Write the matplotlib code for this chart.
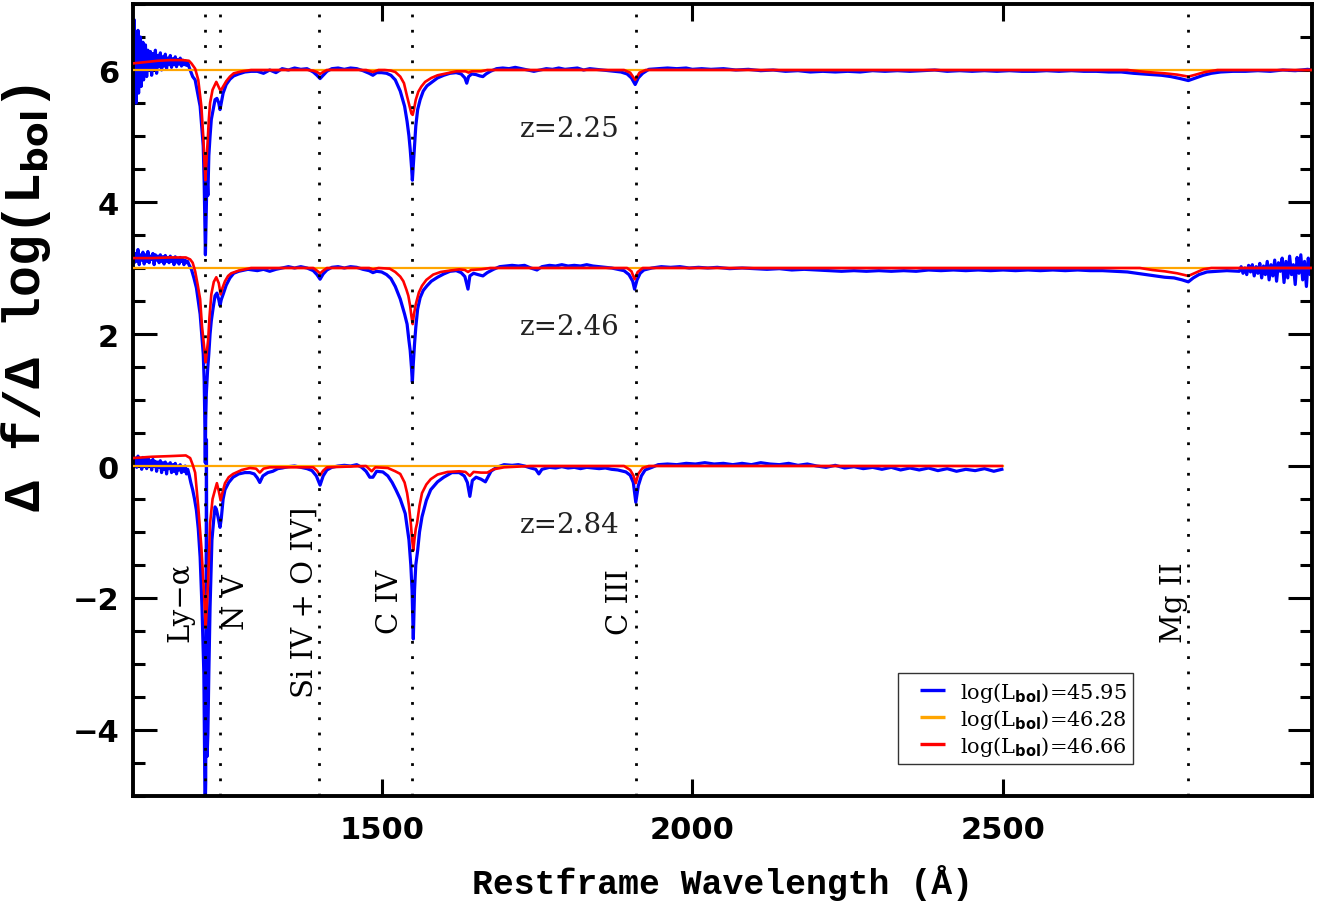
import numpy as np
import matplotlib
matplotlib.use("Agg")
import matplotlib.pyplot as plt
from matplotlib.ticker import MultipleLocator, FixedLocator
from matplotlib.lines import Line2D

plt.rcParams['mathtext.fontset'] = 'custom'
plt.rcParams['mathtext.sf'] = 'DejaVu Sans:bold'
plt.rcParams['mathtext.rm'] = 'DejaVu Serif'
plt.rcParams['axes.unicode_minus'] = True

# ---------------- data (residuals relative to each spectrum's offset) ----------------
offsets = [6.0, 3.0, 0.0]
z_labels = ["z=2.25", "z=2.46", "z=2.84"]
orange_end = [2997, 2997, 2500]

# z = 2.25 (offset 6) -- blue : log(Lbol)=45.95
wl_b1_left = list(range(1100, 1121)) + list(range(1122, 1191, 2))
res_b1_left = [0.3, -0.45, 0.76, -0.3, 0.55, -0.5, 0.45, -0.1, 0.6, -0.35, 0.4, 0.05, 0.5, -0.25, 0.35,
               -0.1, 0.42, -0.15, 0.3, 0.0, 0.38,
               -0.1, 0.3, 0.0, 0.28, -0.08, 0.25, 0.02, 0.3, -0.05, 0.22, 0.05, 0.26, 0.0, 0.2, 0.06,
               0.24, 0.02, 0.18, 0.08, 0.22, 0.04, 0.17, 0.08, 0.2, 0.05, 0.16, 0.09, 0.18, 0.06, 0.15,
               0.08, 0.14, 0.07, 0.12, 0.05]
wl_b1_main = [1196, 1200, 1204, 1208, 1211, 1213, 1214.5, 1215.5, 1216.5, 1217.5, 1219, 1220.5, 1222,
              1224, 1226, 1229, 1232, 1235, 1238, 1240, 1242, 1245, 1250, 1256, 1262, 1270, 1280, 1290,
              1300, 1310, 1320, 1330, 1340, 1350, 1360, 1370, 1380, 1390, 1396, 1401, 1406, 1412, 1420,
              1430, 1440, 1450, 1460, 1470, 1480, 1486, 1492, 1500, 1508, 1515, 1522, 1530, 1537, 1541,
              1544, 1546, 1548, 1549.5, 1551, 1553, 1555, 1558, 1562, 1567, 1573, 1580, 1590, 1600, 1610,
              1620, 1628, 1634, 1637, 1640, 1645, 1652, 1658, 1663, 1668, 1675, 1685, 1695, 1705, 1715,
              1725, 1735, 1745, 1755, 1765, 1775, 1785, 1795, 1805, 1815, 1825, 1835, 1845, 1855, 1865,
              1875, 1885, 1895, 1902, 1908, 1913, 1920, 1930, 1945, 1960, 1975, 1990, 2000, 2015, 2030,
              2050, 2070, 2090, 2110, 2130, 2150, 2170, 2190, 2210, 2230, 2250, 2270, 2290, 2310, 2330,
              2350, 2370, 2390, 2410, 2430, 2450, 2470, 2490, 2510, 2530, 2550, 2570, 2590, 2610, 2630,
              2650, 2670, 2690, 2710, 2725, 2740, 2755, 2770, 2785, 2798, 2810, 2822, 2835, 2850, 2870,
              2890, 2910, 2930, 2950, 2970, 2990, 2997]
res_b1_main = [-0.1, -0.15, -0.35, -0.55, -0.9, -1.15, -1.7, -2.3, -2.8, -2.3, -1.6, -1.9, -1.3,
               -1.0, -0.75, -0.6, -0.45, -0.43, -0.5, -0.6, -0.5, -0.35, -0.22, -0.14, -0.09, -0.06, -0.03, -0.02,
               -0.02, -0.05, 0.0, -0.04, 0.02, 0.0, 0.03, 0.01, 0.02, -0.03, -0.08, -0.13, -0.08, -0.02, 0.02,
               0.03, 0.01, 0.03, 0.02, -0.01, -0.05, -0.08, -0.04, -0.04, -0.05, -0.08, -0.15, -0.32, -0.55, -0.78,
               -1.0, -1.2, -1.45, -1.67, -1.45, -1.15, -0.85, -0.6, -0.45, -0.32, -0.24, -0.19, -0.12, -0.08, -0.05,
               -0.04, -0.06, -0.12, -0.2, -0.1, -0.06, -0.07, -0.09, -0.1, -0.06, -0.02, 0.02, 0.03, 0.02, 0.04,
               0.02, 0.0, -0.02, 0.0, 0.02, 0.01, 0.03, 0.01, 0.02, 0.03, 0.0, 0.02, 0.01, 0.0, -0.01,
               -0.02, -0.03, -0.06, -0.12, -0.22, -0.12, -0.05, 0.01, 0.02, 0.03, 0.02, 0.03, 0.01, 0.02, 0.01,
               0.02, 0.0, 0.01, -0.01, 0.0, -0.02, -0.01, -0.03, -0.02, -0.03, -0.02, -0.03, -0.01, -0.02, -0.01,
               -0.02, -0.01, 0.0, -0.02, -0.01, -0.02, -0.01, -0.02, -0.01, -0.02, -0.02, -0.01, -0.02, -0.01, -0.02,
               -0.02, -0.03, -0.03, -0.05, -0.06, -0.07, -0.08, -0.1, -0.13, -0.16, -0.12, -0.08, -0.05, -0.03, -0.02,
               -0.02, -0.01, -0.02, 0.0, -0.01, 0.01, 0.0]

# z = 2.25 (offset 6) -- red : log(Lbol)=46.66
wl_r1 = [1100, 1120, 1140, 1160, 1180, 1190, 1194, 1200, 1205, 1210, 1213, 1215, 1216.5, 1218, 1220,
         1222, 1224, 1228, 1232, 1234, 1237, 1240, 1242, 1245, 1250, 1256, 1262, 1275, 1290, 1380,
         1390, 1396, 1401, 1406, 1412, 1475, 1486, 1495, 1505, 1515, 1522, 1530, 1536, 1541, 1545,
         1548, 1550, 1552, 1555, 1559, 1564, 1570, 1580, 1590, 1605, 1620, 1635, 1640, 1645, 1660,
         1670, 1890, 1900, 1908, 1915, 1925, 2700, 2730, 2760, 2780, 2798, 2810, 2825, 2845, 2997]
res_r1 = [0.1, 0.12, 0.14, 0.15, 0.15, 0.14, 0.1, 0.02, -0.15, -0.55, -1.0, -1.4, -1.67, -1.4, -1.1,
          -0.75, -0.5, -0.3, -0.22, -0.18, -0.24, -0.3, -0.3, -0.25, -0.17, -0.1, -0.05, -0.02, 0.0, 0.0,
          -0.01, -0.03, -0.06, -0.03, 0.0, 0.0, -0.03, 0.0, 0.0, -0.01, -0.03, -0.1, -0.2, -0.4, -0.55,
          -0.66, -0.68, -0.6, -0.45, -0.33, -0.25, -0.18, -0.12, -0.08, -0.05, -0.02, -0.02, -0.04, -0.02, -0.02,
          0.0, 0.0, -0.04, -0.15, -0.04, 0.0, 0.0, -0.03, -0.05, -0.07, -0.1, -0.07, -0.03, 0.0, 0.0]

# z = 2.46 (offset 3) -- blue
wl_b2_left = list(range(1100, 1191, 2))
res_b2_left = [0.25, 0.08, 0.22, 0.1, 0.28, 0.05, 0.2, 0.12, 0.24, 0.06, 0.2, 0.1, 0.25, 0.08, 0.18,
               0.13, 0.22, 0.05, 0.2, 0.12, 0.18, 0.08, 0.2, 0.1, 0.17, 0.06, 0.19, 0.1, 0.16, 0.08,
               0.18, 0.1, 0.15, 0.05, 0.17, 0.09, 0.14, 0.06, 0.16, 0.1, 0.13, 0.05, 0.12, 0.08, 0.1, 0.05]
wl_b2_main = [1194, 1198, 1202, 1205, 1208,
              1211, 1213, 1214.5, 1215.5, 1216.3, 1217, 1218, 1220, 1222, 1224, 1226, 1229, 1232, 1235,
              1238, 1240, 1242, 1245, 1250, 1256, 1262, 1270, 1285, 1300, 1310, 1320, 1330, 1340, 1350,
              1360, 1370, 1380, 1390, 1396, 1401, 1406, 1412, 1420, 1430, 1440, 1450, 1460, 1470, 1480,
              1486, 1492, 1500, 1508, 1515, 1522, 1530, 1537, 1541, 1544, 1546, 1548, 1549.5, 1551, 1553,
              1555, 1558, 1562, 1567, 1573, 1580, 1590, 1600, 1610, 1620, 1628, 1634, 1639, 1642, 1648,
              1655, 1663, 1670, 1680, 1690, 1700, 1710, 1720, 1730, 1740, 1750, 1758, 1770, 1780, 1790,
              1800, 1810, 1820, 1830, 1840, 1850, 1860, 1870, 1880, 1890, 1898, 1904, 1907, 1911, 1916,
              1922, 1935, 1950, 1965, 1980, 1995, 2010, 2025, 2040, 2060, 2080, 2100, 2120, 2140, 2160,
              2180, 2200, 2220, 2240, 2260, 2280, 2300, 2320, 2340, 2360, 2380, 2400, 2420, 2440, 2460,
              2480, 2500, 2520, 2540, 2560, 2580, 2600, 2620, 2640, 2660, 2680, 2700, 2715, 2730, 2745,
              2760, 2775, 2788, 2798, 2806, 2815, 2828, 2845, 2860]
res_b2_main = [-0.02, -0.15, -0.3, -0.5, -0.7,
               -1.05, -1.3, -1.7, -2.3, -2.95, -2.3, -1.9, -1.55, -1.3, -1.0, -0.8, -0.6, -0.42, -0.38,
               -0.48, -0.57, -0.48, -0.4, -0.26, -0.15, -0.08, -0.05, -0.02, -0.04, -0.02, -0.05, -0.02, 0.0, 0.02,
               0.0, 0.02, 0.0, -0.04, -0.1, -0.17, -0.09, -0.03, 0.01, 0.02, 0.0, 0.02, 0.01, -0.02, -0.04,
               -0.07, -0.05, -0.06, -0.1, -0.16, -0.28, -0.47, -0.7, -0.85, -1.1, -1.25, -1.5, -1.73, -1.45, -1.15,
               -0.9, -0.62, -0.45, -0.34, -0.27, -0.2, -0.14, -0.09, -0.05, -0.04, -0.07, -0.13, -0.32, -0.12, -0.08,
               -0.1, -0.12, -0.07, -0.02, 0.02, 0.03, 0.04, 0.03, 0.04, 0.0, -0.03, 0.02, 0.04, 0.03, 0.05,
               0.03, 0.04, 0.03, 0.05, 0.03, 0.02, 0.01, 0.0, -0.02, -0.04, -0.1, -0.2, -0.32, -0.18, -0.08,
               -0.03, 0.0, 0.02, 0.01, 0.02, 0.0, 0.01, 0.0, 0.01, -0.01, 0.0, -0.01, -0.02, -0.01, -0.03,
               -0.02, -0.03, -0.04, -0.05, -0.04, -0.05, -0.04, -0.05, -0.04, -0.05, -0.03, -0.04, -0.03, -0.04, -0.03,
               -0.04, -0.03, -0.04, -0.03, -0.04, -0.03, -0.04, -0.03, -0.04, -0.04, -0.05, -0.06, -0.08, -0.1, -0.12,
               -0.14, -0.15, -0.18, -0.21, -0.15, -0.1, -0.06, -0.05, -0.04]
wl_b2_right = list(range(2880, 2998, 3))
res_b2_right = [-0.05, 0.02, -0.08, 0.0, -0.1, 0.04, -0.06, 0.05, -0.12, 0.02, -0.08, 0.07, -0.15, 0.03,
                -0.1, 0.1, -0.18, 0.05, -0.12, 0.12, -0.2, 0.08, -0.05, 0.15, -0.22, 0.1, -0.15, 0.18,
                -0.1, 0.05, -0.25, 0.16, -0.08, 0.2, -0.18, 0.1, -0.28, 0.15, -0.1, 0.05]

# z = 2.46 (offset 3) -- red
wl_r2 = [1100, 1130, 1160, 1185, 1192, 1196, 1200, 1204, 1208, 1211, 1214, 1217, 1219, 1221, 1223,
         1226, 1230, 1234, 1238, 1241, 1244, 1248, 1253, 1258, 1270, 1280, 1290, 1390, 1396, 1401,
         1406, 1412, 1480, 1486, 1495, 1513, 1522, 1530, 1535, 1540, 1543, 1546, 1548, 1550, 1552,
         1555, 1560, 1565, 1572, 1583, 1595, 1609, 1625, 1634, 1639, 1644, 1660, 1675, 1895, 1902,
         1907, 1912, 1920, 2720, 2740, 2760, 2780, 2798, 2810, 2822, 2835, 2997]
res_r2 = [0.15, 0.15, 0.16, 0.16, 0.13, 0.08, -0.05, -0.25, -0.47, -0.88, -1.15, -1.43, -1.25, -1.08, -0.75,
          -0.4, -0.21, -0.14, -0.23, -0.4, -0.3, -0.2, -0.12, -0.08, -0.04, -0.02, 0.0, 0.0, -0.04, -0.08,
          -0.04, 0.0, 0.0, -0.02, 0.0, -0.01, -0.06, -0.13, -0.2, -0.33, -0.42, -0.58, -0.73, -0.85, -0.7,
          -0.55, -0.37, -0.27, -0.18, -0.1, -0.06, -0.04, -0.02, -0.03, -0.06, -0.03, -0.02, 0.0, 0.0, -0.05,
          -0.17, -0.06, 0.0, 0.0, -0.03, -0.05, -0.08, -0.12, -0.07, -0.02, 0.0, 0.0]

# z = 2.84 (offset 0) -- blue
wl_b3_left = list(range(1100, 1191, 2))
res_b3_left = [0.08, 0.0, 0.12, -0.02, 0.15, 0.02, 0.1, -0.05, 0.13, 0.0,
               0.1, -0.04, 0.12, 0.02, 0.08, -0.06, 0.1, 0.0, 0.07, -0.08,
               0.06, -0.02, 0.08, -0.1, 0.05, -0.05, 0.06, -0.12, 0.03, -0.04,
               0.05, -0.1, 0.02, -0.08, 0.04, -0.12, 0.0, -0.06, 0.02, -0.1,
               -0.02, -0.08, 0.0, -0.12, -0.05, -0.12]
wl_b3_main = [1193, 1196, 1199, 1202,
              1205, 1208, 1211, 1213, 1214, 1215, 1216, 1217, 1218.2, 1219.2, 1220.5, 1222, 1224, 1227,
              1230, 1232, 1234, 1237, 1240, 1242, 1245, 1248, 1254, 1261, 1270, 1280, 1288, 1295, 1300,
              1304, 1309, 1317, 1325, 1333, 1340, 1350, 1360, 1370, 1380, 1388, 1395, 1401, 1406, 1412,
              1420, 1430, 1440, 1450, 1460, 1468, 1475, 1481, 1486, 1492, 1502, 1510, 1517, 1523, 1530,
              1538, 1544, 1547, 1549, 1551, 1553, 1555, 1558, 1561, 1565, 1572, 1579, 1590, 1600, 1613,
              1625, 1633, 1638, 1642, 1646, 1652, 1660, 1667, 1672, 1676, 1685, 1697, 1710, 1720, 1730,
              1740, 1748, 1753, 1758, 1770, 1780, 1790, 1800, 1810, 1820, 1830, 1840, 1850, 1860, 1870,
              1880, 1893, 1900, 1905, 1909, 1913, 1918, 1924, 1935, 1945, 1960, 1975, 1990, 2005, 2020,
              2035, 2050, 2065, 2080, 2095, 2110, 2125, 2140, 2155, 2170, 2185, 2200, 2215, 2230, 2245,
              2260, 2275, 2290, 2305, 2320, 2335, 2350, 2365, 2380, 2395, 2410, 2425, 2440, 2455, 2470,
              2485, 2498]
res_b3_main = [-0.25, -0.36, -0.5, -0.67,
               -0.95, -1.38, -2.14, -2.8, -3.15, -4.2, -5.3, -4.8, 0.4, -4.4, -4.05, -3.15, -2.14, -1.12,
               -0.8, -0.62, -0.65, -0.78, -0.93, -0.8, -0.5, -0.36, -0.25, -0.17, -0.12, -0.1, -0.1, -0.12, -0.18,
               -0.25, -0.15, -0.1, -0.08, -0.04, -0.03, -0.01, 0.0, -0.02, -0.04, -0.07, -0.15, -0.29, -0.15, -0.06,
               -0.02, 0.0, 0.01, 0.0, 0.02, -0.02, -0.08, -0.17, -0.17, -0.08, -0.09, -0.15, -0.25, -0.36, -0.5,
               -0.72, -1.12, -1.5, -1.88, -2.62, -1.88, -1.5, -1.28, -1.0, -0.77, -0.52, -0.36, -0.24, -0.17, -0.1,
               -0.1, -0.15, -0.25, -0.46, -0.22, -0.17, -0.2, -0.24, -0.15, -0.08, -0.02, 0.02, 0.01, 0.02, 0.0,
               -0.03, -0.05, -0.12, -0.05, -0.02, -0.03, -0.01, -0.03, -0.02, -0.04, -0.02, -0.03, -0.04, -0.03, -0.05,
               -0.06, -0.09, -0.14, -0.25, -0.55, -0.3, -0.15, -0.06, -0.02, 0.02, 0.03, 0.02, 0.04, 0.03, 0.05,
               0.03, 0.04, 0.02, 0.04, 0.02, 0.05, 0.03, 0.02, 0.04, 0.01, 0.03, 0.0, -0.02, 0.01, -0.03,
               -0.01, -0.04, -0.02, -0.05, -0.02, -0.06, -0.03, -0.06, -0.03, -0.07, -0.04, -0.08, -0.05, -0.07, -0.04,
               -0.08, -0.05]

# z = 2.84 (offset 0) -- red
wl_r3 = [1100, 1130, 1160, 1185, 1192, 1196, 1200, 1205, 1210, 1214, 1217, 1219, 1221, 1224, 1228,
         1232, 1235, 1238, 1241, 1244, 1248, 1254, 1261, 1275, 1288, 1298, 1304, 1310, 1320, 1390,
         1396, 1401, 1406, 1412, 1475, 1484, 1490, 1510, 1522, 1530, 1537, 1541, 1544, 1547, 1549,
         1551, 1553, 1555, 1557, 1561, 1565, 1572, 1579, 1590, 1606, 1625, 1635, 1642, 1648, 1660,
         1670, 1680, 1697, 1740, 1890, 1900, 1905, 1909, 1913, 1920, 1930, 2498]
res_r3 = [0.12, 0.14, 0.15, 0.16, 0.12, 0.02, -0.1, -0.62, -1.23, -1.88, -2.45, -2.1, -1.73, -0.87, -0.5,
          -0.36, -0.26, -0.38, -0.52, -0.4, -0.26, -0.17, -0.12, -0.06, -0.03, -0.04, -0.1, -0.04, -0.02, -0.02,
          -0.07, -0.14, -0.07, -0.02, 0.0, -0.08, -0.02, -0.03, -0.08, -0.12, -0.25, -0.41, -0.6, -0.87, -1.1,
          -1.28, -1.1, -0.95, -0.87, -0.6, -0.41, -0.28, -0.2, -0.13, -0.09, -0.08, -0.09, -0.15, -0.09, -0.1,
          -0.1, -0.05, -0.02, 0.0, 0.0, -0.06, -0.14, -0.26, -0.12, -0.03, 0.0, 0.0]

blue_wl = [wl_b1_left + wl_b1_main, wl_b2_left + wl_b2_main + wl_b2_right, wl_b3_left + wl_b3_main]
blue_res = [res_b1_left + res_b1_main, res_b2_left + res_b2_main + res_b2_right, res_b3_left + res_b3_main]
red_wl = [wl_r1, wl_r2, wl_r3]
red_res = [res_r1, res_r2, res_r3]

line_wl = [1216, 1240, 1400, 1549, 1909, 2798]
line_names = ["Ly\u2212\u03b1", "N V", "Si IV + O IV]", "C IV", "C III", "Mg II"]
label_x = [1176, 1266, 1377, 1513, 1883, 2775]

legend_labels = [r"log(L$_{\mathsf{bol}}$)=45.95", r"log(L$_{\mathsf{bol}}$)=46.28",
                 r"log(L$_{\mathsf{bol}}$)=46.66"]
colors = ['#0000ff', '#ffa500', '#ff0000']

# ---------------- figure ----------------
fig = plt.figure(figsize=(13.25, 9.03), dpi=100)
ax = fig.add_axes([133/1325, 1 - 797/903, (1312 - 133)/1325, (797 - 5)/903])

for i, off in enumerate(offsets):
    bw = np.array(blue_wl[i]); br = np.array(blue_res[i]) + off
    rw = np.array(red_wl[i]); rr = np.array(red_res[i]) + off
    ax.plot(bw, br, color=colors[0], lw=2.3, zorder=2)
    ax.plot([1100, orange_end[i]], [off, off], color=colors[1], lw=1.6, zorder=3)
    ax.plot(rw, rr, color=colors[2], lw=1.9, zorder=4)
    ax.text(1803, off - 0.88, z_labels[i], fontsize=20, family='DejaVu Serif',
            ha='center', va='center', color='#222222')

for lw_, name, lx in zip(line_wl, line_names, label_x):
    ax.axvline(lw_, color='black', lw=2.0, linestyle=(0, (1, 4.5)), zorder=5)
    ax.text(lx, -2.05, name, rotation=90, fontsize=21, family='DejaVu Serif',
            ha='center', va='center')

ax.set_xlim(1100, 2997)
ax.set_ylim(-5, 7)
ax.xaxis.set_major_locator(FixedLocator([1500, 2000, 2500]))
ax.yaxis.set_major_locator(MultipleLocator(2))
ax.yaxis.set_minor_locator(MultipleLocator(0.5))

ax.tick_params(axis='both', which='both', direction='in', top=True, right=True, width=2.2)
ax.tick_params(axis='y', which='major', length=17, pad=10)
ax.tick_params(axis='y', which='minor', length=8.5)
ax.tick_params(axis='x', which='major', length=12, pad=14)
for lab in ax.get_xticklabels() + ax.get_yticklabels():
    lab.set_fontfamily('DejaVu Sans')
    lab.set_fontweight('bold')
    lab.set_fontsize(22)
for sp in ax.spines.values():
    sp.set_linewidth(2.8)

ax.set_xlabel("Restframe Wavelength (\u00c5)", fontsize=25, fontweight='bold',
              family=['Liberation Mono', 'DejaVu Sans Mono'], labelpad=14)
ax.set_ylabel("\u0394 f/\u0394 log(L$_{\\mathsf{bol}}$)", fontsize=37, fontweight='bold',
              family=['Liberation Mono', 'DejaVu Sans Mono'])
ax.yaxis.set_label_coords(-0.068, 0.63)

handles = [Line2D([], [], color=c, marker='_', markersize=18, markeredgewidth=2.4, linestyle='None')
           for c in colors]
leg = ax.legend(handles, legend_labels, loc='lower right', bbox_to_anchor=(0.848, 0.0404),
                frameon=True, fancybox=False, prop={'family': 'DejaVu Serif', 'size': 15},
                handlelength=2.6, handletextpad=0.05, borderpad=0.3, labelspacing=0.15,
                borderaxespad=0)
leg.get_frame().set_edgecolor('black')
leg.get_frame().set_linewidth(1.0)
leg.set_zorder(10)

fig.savefig("out.png", dpi=100)
